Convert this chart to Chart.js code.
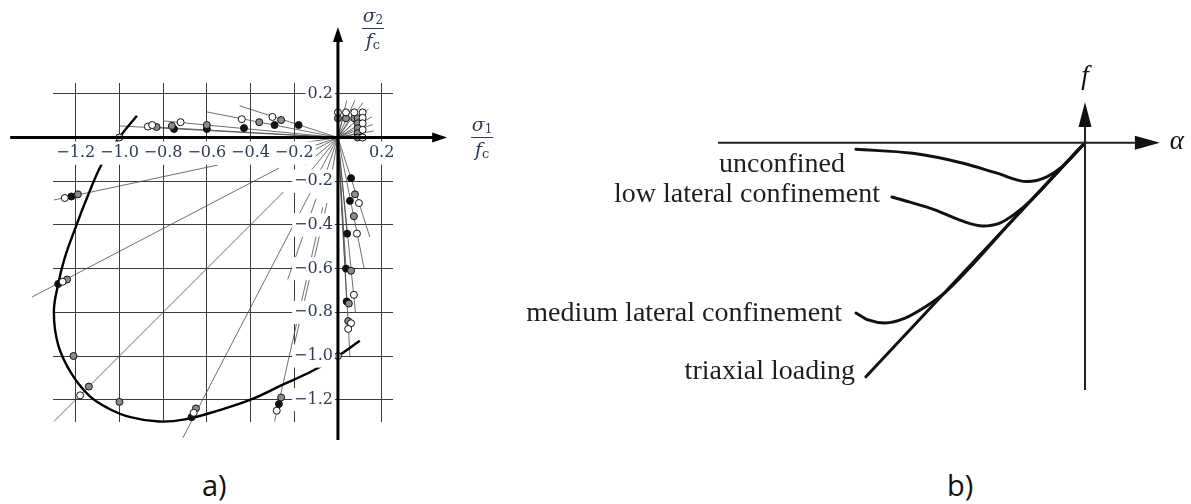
<!DOCTYPE html>
<html>
<head>
<meta charset="utf-8">
<script src="https://cdn.jsdelivr.net/npm/chart.js@4.4.1/dist/chart.umd.min.js"></script>
<style>
  body { margin: 0; background: #fff; width: 1191px; height: 504px; position: relative; overflow: hidden; }
  canvas { position: absolute; top: 0; }
  #envelopeChart { left: 0; }
  #failureChart { left: 480px; }
  .caption { position: absolute; top: 466px; font-family: 'Open Sans', sans-serif; font-size: 29px; line-height: 38px; color: #111; }
</style>
</head>
<body>
<canvas id="envelopeChart" width="540" height="460"></canvas>
<canvas id="failureChart" width="711" height="460"></canvas>
<div class="caption" style="left:202px">a)</div>
<div class="caption" style="left:947px">b)</div>
<script>
// ---- a) biaxial strength, sigma1/fc vs sigma2/fc ----
const envelope = [
    [-0.92, 0.10], [-1.0, 0.0], [-1.08, -0.12], [-1.15, -0.28], [-1.2, -0.41], [-1.25, -0.55],
    [-1.28, -0.67], [-1.3, -0.8], [-1.28, -0.95], [-1.22, -1.08], [-1.14, -1.18], [-1.05, -1.24],
    [-0.95, -1.28], [-0.82, -1.3], [-0.7, -1.29], [-0.55, -1.25], [-0.4, -1.2], [-0.25, -1.13],
    [-0.12, -1.07], [0.0, -1.0], [0.1, -0.93]
];
const uniaxial = [[-1.0, 0.0], [0.0, -1.0]];

const openTests = [
    [-0.87, 0.05], [-0.85, 0.057], [-0.72, 0.07], [-0.44, 0.084], [-0.30, 0.094],
    [0.0, 0.115], [0.037, 0.115], [0.075, 0.115], [0.113, 0.115], [0.113, 0.09], [0.113, 0.065], [0.113, 0.035], [0.113, 0.0],
    [-1.25, -0.277], [-1.26, -0.66], [-1.18, -1.18], [-0.66, -1.26], [-0.28, -1.25],
    [0.096, -0.30], [0.087, -0.44], [0.073, -0.72], [0.06, -0.85], [0.047, -0.876]
];
const greyTests = [
    [-0.83, 0.048], [-0.76, 0.053], [-0.6, 0.057], [-0.36, 0.07], [-0.26, 0.08],
    [0.0, 0.088], [0.037, 0.088], [0.075, 0.088], [0.09, 0.088], [0.09, 0.065], [0.09, 0.042], [0.09, 0.02], [0.09, 0.0],
    [-1.19, -0.26], [-1.24, -0.65], [-1.21, -1.0], [-1.14, -1.14], [-1.0, -1.21], [-0.65, -1.24], [-0.26, -1.19],
    [0.078, -0.26], [0.073, -0.36], [0.06, -0.61], [0.05, -0.76], [0.047, -0.84]
];
const solidTests = [
    [-0.75, 0.039], [-0.6, 0.039], [-0.43, 0.043], [-0.29, 0.057], [-0.18, 0.057],
    [-1.22, -0.27], [-1.28, -0.67], [-0.67, -1.28], [-0.27, -1.22],
    [0.06, -0.186], [0.055, -0.29], [0.042, -0.44], [0.037, -0.6], [0.04, -0.75]
];

// load paths: x1, y1, x2, y2
const loadPaths = [
    [0, 0, -0.45, 0.145], [0, 0, -0.6, 0.117], [0, 0, -0.8, 0.076], [0, 0, -1.0, 0.053], [0, 0, -0.87, 0.05],
    [-0.55, -0.126, -1.3, -0.286], [-0.27, -0.14, -1.4, -0.73], [-0.25, -0.25, -1.3, -1.3],
    [-0.12, -0.24, -0.71, -1.375], [-0.1, -0.28, -0.23, -0.65], [-0.07, -0.32, -0.29, -1.3], [-0.05, -0.3, -0.2, -0.95],
    [0, 0, 0.146, -0.455], [0, 0, 0.12, -0.6], [0, 0, 0.08, -0.8], [0, 0, 0.055, -1.0],
    [0, 0, 0.04, -0.75], [0, 0, 0.037, -0.6], [0, 0, 0.042, -0.44],
    [0, 0, -0.2, -0.03], [0, 0, -0.19, -0.066], [0, 0, -0.17, -0.09], [0, 0, -0.15, -0.126], [0, 0, -0.13, -0.16],
    [0, 0, -0.105, -0.195], [0, 0, -0.073, -0.217], [0, 0, -0.037, -0.22],
    [0, 0, 0.04, 0.17], [0, 0, 0.078, 0.17], [0, 0, 0.115, 0.16], [0, 0, 0.14, 0.13], [0, 0, 0.155, 0.095],
    [0, 0, 0.16, 0.06], [0, 0, 0.165, 0.03],
    [0, 0, 0.02, 0.08], [0, 0, 0.045, 0.07], [0, 0, 0.06, 0.055], [0, 0, 0.07, 0.035], [0, 0, 0.075, 0.015]
];

const xTicks = [-1.2, -1.0, -0.8, -0.6, -0.4, -0.2, 0.2];
const yTicks = [0.2, -0.2, -0.4, -0.6, -0.8, -1.0, -1.2];

// ---- b) failure function f against alpha ----
const triaxial = [[-0.597, -0.638], [0, 0]];
const mediumConf = [[-0.624, -0.464], [-0.591, -0.483], [-0.545, -0.491], [-0.49, -0.478], [-0.436, -0.448], [-0.381, -0.408], [-0.19, -0.203], [0, 0]];
const lowConf = [[-0.526, -0.148], [-0.477, -0.162], [-0.409, -0.183], [-0.341, -0.211], [-0.278, -0.227], [-0.232, -0.219], [-0.191, -0.194], [-0.15, -0.16], [-0.068, -0.073], [0, 0]];
const unconfined = [[-0.624, -0.018], [-0.469, -0.029], [-0.332, -0.056], [-0.24, -0.083], [-0.158, -0.106], [-0.104, -0.093], [-0.063, -0.066], [0, 0]];
const curveNames = ['unconfined', 'low lateral confinement', 'medium lateral confinement', 'triaxial loading'];

const pts = arr => arr.map(p => ({ x: p[0], y: p[1] }));
const fmt = v => (v < 0 ? '\u2212' : '') + Math.abs(v).toFixed(1);
const labelBlue = '#2e3a55';

function arrowHead(ctx, x, y, dx, dy, len, half) {
    // filled head pointing along (dx, dy)
    ctx.beginPath();
    ctx.moveTo(x, y);
    ctx.lineTo(x - dx * len - dy * half, y - dy * len + dx * half);
    ctx.lineTo(x - dx * len + dy * half, y - dy * len - dx * half);
    ctx.closePath();
    ctx.fill();
}

function fraction(ctx, cx, lineY, num, numSub, den, denSub) {
    ctx.save();
    ctx.fillStyle = labelBlue;
    ctx.strokeStyle = labelBlue;
    ctx.textBaseline = 'alphabetic';
    ctx.textAlign = 'left';
    ctx.font = 'italic 19px "DejaVu Serif"';
    let w1 = ctx.measureText(num).width;
    ctx.font = '12px "DejaVu Serif"';
    let w2 = ctx.measureText(numSub).width;
    let x0 = cx - (w1 + w2) / 2;
    ctx.font = 'italic 19px "DejaVu Serif"';
    ctx.fillText(num, x0, lineY - 6);
    ctx.font = '12px "DejaVu Serif"';
    ctx.fillText(numSub, x0 + w1, lineY - 4);
    ctx.lineWidth = 1;
    ctx.beginPath();
    ctx.moveTo(cx - 11, lineY + 0.5);
    ctx.lineTo(cx + 11, lineY + 0.5);
    ctx.stroke();
    ctx.font = 'italic 19px "DejaVu Serif"';
    w1 = ctx.measureText(den).width;
    ctx.font = '13px "DejaVu Serif"';
    w2 = ctx.measureText(denSub).width;
    x0 = cx - (w1 + w2) / 2;
    ctx.font = 'italic 19px "DejaVu Serif"';
    ctx.fillText(den, x0, lineY + 19);
    ctx.font = '13px "DejaVu Serif"';
    ctx.fillText(denSub, x0 + w1, lineY + 21);
    ctx.restore();
}

// axes with arrows and axis titles for a)
const stressAxes = {
    id: 'stressAxes',
    afterDraw(chart) {
        const { ctx, scales: { x, y } } = chart;
        const x0 = x.getPixelForValue(0), y0 = y.getPixelForValue(0);
        ctx.save();
        ctx.strokeStyle = '#000';
        ctx.fillStyle = '#000';
        ctx.lineWidth = 3;
        const xl = x.getPixelForValue(-1.5), xr = x.getPixelForValue(0.5);
        const yb = y.getPixelForValue(-1.384), yt = y.getPixelForValue(0.506);
        ctx.beginPath();
        ctx.moveTo(xl, y0); ctx.lineTo(xr - 10, y0);
        ctx.moveTo(x0, yb); ctx.lineTo(x0, yt + 10);
        ctx.stroke();
        arrowHead(ctx, xr, y0, 1, 0, 15, 5);
        arrowHead(ctx, x0, yt, 0, -1, 15, 5);
        ctx.restore();
        fraction(ctx, x0 + 35, 28, '\u03c3', '2', 'f', 'c');
        fraction(ctx, x.getPixelForValue(0.66), 137, '\u03c3', '1', 'f', 'c');
    }
};

const pathData = [];
loadPaths.forEach(s => {
    pathData.push({ x: s[0], y: s[1] }, { x: s[2], y: s[3] }, { x: null, y: null });
});

const markerSet = (label, data, fill) => ({
    label, data: pts(data), showLine: false, order: 1,
    pointRadius: 3.5, pointBorderWidth: 1, pointBorderColor: '#111', pointBackgroundColor: fill, clip: false
});

const tickOpts = {
    z: 1, autoSkip: false, maxRotation: 0,
    font: { family: 'DejaVu Serif', size: 16 }, color: labelBlue,
    showLabelBackdrop: true, backdropColor: '#fff', backdropPadding: 2,
    callback: v => fmt(v)
};

new Chart(document.getElementById('envelopeChart'), {
    type: 'scatter',
    data: {
        datasets: [
            { label: 'load paths', data: pathData, showLine: true, spanGaps: false, borderColor: '#4a4a4a', borderWidth: 0.8, pointRadius: 0, order: 3, clip: false },
            { label: 'envelope', data: pts(envelope), showLine: true, tension: 0.4, borderColor: '#000', borderWidth: 2.4, pointRadius: 0, order: 2, clip: false },
            markerSet('uniaxial', uniaxial, '#ddd'),
            markerSet('open', openTests, '#fff'),
            markerSet('grey', greyTests, '#8c8c8c'),
            markerSet('solid', solidTests, '#111')
        ]
    },
    options: {
        responsive: false, animation: false, events: [],
        layout: { padding: { left: 53, top: 83, right: 147, bottom: 38 } },
        plugins: { legend: { display: false }, tooltip: { enabled: false } },
        scales: {
            x: {
                type: 'linear', position: { y: 0 }, min: -1.304, max: 0.252,
                afterBuildTicks: s => { s.ticks = xTicks.map(v => ({ value: v })); },
                grid: { color: '#3c3c3c', lineWidth: 1, drawTicks: false },
                border: { display: false },
                ticks: Object.assign({ padding: 6 }, tickOpts)
            },
            y: {
                // labels sit just left of the sigma2 axis
                type: 'linear', position: { x: -0.023 }, min: -1.302, max: 0.2494,
                afterBuildTicks: s => { s.ticks = yTicks.map(v => ({ value: v })); },
                grid: { color: '#3c3c3c', lineWidth: 1, drawTicks: false },
                border: { display: false },
                ticks: Object.assign({ padding: 5 }, tickOpts)
            }
        }
    },
    plugins: [stressAxes]
});

// ---- b) ----
const labelOffsets = [[-11, 23], [-12, 5], [-14, 8], [-11, 2]];

const failureAxes = {
    id: 'failureAxes',
    afterDraw(chart) {
        const { ctx, scales: { x, y } } = chart;
        const x0 = x.getPixelForValue(0), y0 = y.getPixelForValue(0);
        ctx.save();
        ctx.strokeStyle = '#222';
        ctx.fillStyle = '#111';
        ctx.lineWidth = 2;
        const xl = x.getPixelForValue(-1.0), xr = x.getPixelForValue(0.204);
        const yb = y.getPixelForValue(-0.674), yt = y.getPixelForValue(0.111);
        ctx.beginPath();
        ctx.moveTo(xl, y0); ctx.lineTo(xr - 20, y0);
        ctx.moveTo(x0, yb); ctx.lineTo(x0, yt + 20);
        ctx.stroke();
        arrowHead(ctx, xr, y0, 1, 0, 25, 7);
        arrowHead(ctx, x0, yt, 0, -1, 25, 6.5);

        ctx.font = 'italic 27px "Liberation Serif"';
        ctx.textAlign = 'center';
        ctx.textBaseline = 'alphabetic';
        ctx.fillText('f', x0, yt - 18);
        ctx.fillText('\u03b1', xr + 17, y0 + 6);

        ctx.font = '28px "Liberation Serif"';
        ctx.textAlign = 'right';
        ctx.fillStyle = '#1e1e1e';
        chart.data.datasets.forEach((ds, i) => {
            const start = ds.data[0];
            const px = x.getPixelForValue(start.x) + labelOffsets[i][0];
            const py = y.getPixelForValue(start.y) + labelOffsets[i][1];
            ctx.fillText(ds.label, px, py);
        });
        ctx.restore();
    }
};

const curveSet = (label, data) => ({
    label, data: pts(data), showLine: true, borderColor: '#111', borderWidth: 3,
    borderCapStyle: 'round', cubicInterpolationMode: 'monotone', pointRadius: 0, clip: false
});

new Chart(document.getElementById('failureChart'), {
    type: 'scatter',
    data: {
        datasets: [
            curveSet(curveNames[0], unconfined),
            curveSet(curveNames[1], lowConf),
            curveSet(curveNames[2], mediumConf),
            curveSet(curveNames[3], triaxial)
        ]
    },
    options: {
        responsive: false, animation: false, events: [],
        layout: { padding: 0 },
        plugins: { legend: { display: false }, tooltip: { enabled: false } },
        scales: {
            x: { type: 'linear', display: false, min: -1.6485, max: 0.2888 },
            y: { type: 'linear', display: false, min: -0.8646, max: 0.3888 }
        }
    },
    plugins: [failureAxes]
});
</script>
</body>
</html>
